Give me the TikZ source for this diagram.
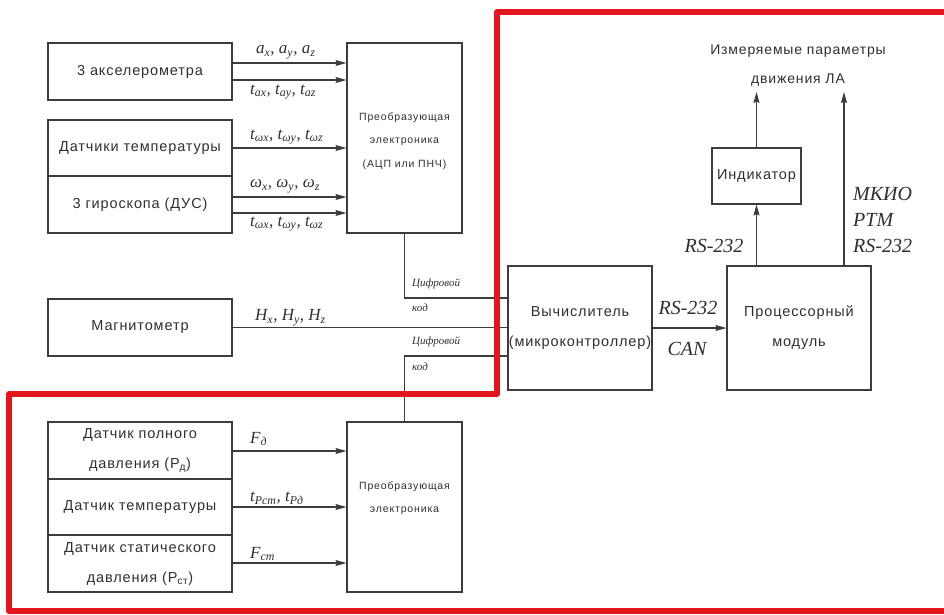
\documentclass[tikz,border=0pt]{standalone}
\usepackage{fontspec}
\setmainfont{Liberation Sans}
\newfontfamily\gost{Liberation Sans}[LetterSpace=6]
\newfontfamily\gosts{Liberation Sans}[LetterSpace=8]
\newfontfamily\tms{Liberation Serif}
\usetikzlibrary{arrows.meta}
\definecolor{ln}{HTML}{3C3C3C}
\definecolor{tx}{HTML}{303030}
\definecolor{rd}{HTML}{E3151E}
\newcommand{\sbs}[1]{\textsubscript{#1}}
\begin{document}
\begin{tikzpicture}[x=1pt,y=-1pt,
 box/.style={draw=ln, line width=1.1pt, inner sep=0pt, align=center, text=tx, font=\gost\fontsize{14.5}{30}\selectfont},
 btxt/.style={text=tx, align=center, font=\gost\fontsize{14}{29}\selectfont, inner sep=0pt},
 stxt/.style={text=tx, align=center, font=\gosts\fontsize{10.5}{23.5}\selectfont, inner sep=0pt},
 lab/.style={text=tx, font=\tms\itshape\fontsize{17}{19}\selectfont, inner sep=0pt, anchor=west},
 bigtxt/.style={text=tx, font=\tms\itshape\fontsize{20}{26}\selectfont, inner sep=0pt, align=left},
 cdtxt/.style={text=tx, font=\tms\itshape\fontsize{11}{13}\selectfont, inner sep=0pt, anchor=west},
 wire/.style={draw=ln, line width=1.1pt},
 arr/.style={wire, -{Stealth[length=11pt,width=6pt,inset=1.5pt]}},
]
\useasboundingbox[fill=white] (0,0) rectangle (944,614);

% upper sensors
\node[box, minimum width=184pt, minimum height=57pt] (acc) at (140,71.5) {3 акселерометра};
\node[box, minimum width=184pt, minimum height=56pt] (tempg) at (140,148) {Датчики температуры};
\node[box, minimum width=184pt, minimum height=57pt] (gyro) at (140,204.5) {3 гироскопа (ДУС)};
\node[box, minimum width=115pt, minimum height=190pt] (pr1) at (404.5,138) {};
\node[stxt] (pr1t) at (404.5,141) {Преобразующая\\электроника\\(АЦП или ПНЧ)};

% magnetometer
\node[box, minimum width=184pt, minimum height=57pt] (mag) at (140,327.5) {Магнитометр};

% lower sensors
\node[box, minimum width=184pt, minimum height=57pt] (pfull) at (140,450.5) {Датчик полного\\давления (P\sbs{д})};
\node[box, minimum width=184pt, minimum height=56pt] (ptemp) at (140,507) {Датчик температуры};
\node[box, minimum width=184pt, minimum height=57pt] (pstat) at (140,563.5) {Датчик статического\\давления (P\sbs{ст})};
\node[box, minimum width=115pt, minimum height=170pt] (pr2) at (404.5,507) {};
\node[stxt] (pr2t) at (404.5,498) {Преобразующая\\электроника};

% computer, processor, indicator
\node[box, minimum width=144pt, minimum height=124pt] (calc) at (580,328) {Вычислитель\\(микроконтроллер)};
\node[box, minimum width=144pt, minimum height=124pt] (proc) at (799,328) {Процессорный\\модуль};
\node[box, minimum width=89pt, minimum height=56pt] (ind) at (756.5,176) {Индикатор};
\node[btxt] (title) at (798,66) {Измеряемые параметры\\движения ЛА};

% level coordinates
\coordinate (y1) at (0,63);
\coordinate (y2) at (0,80);
\coordinate (y3) at (0,148);
\coordinate (y4) at (0,197);
\coordinate (y5) at (0,213);
\coordinate (y6) at (0,451);
\coordinate (y7) at (0,507);
\coordinate (y8) at (0,563);
\coordinate (yc1) at (0,298);
\coordinate (yc2) at (0,356);
\coordinate (out1) at (756.5,92);
\coordinate (out2) at (844,92);

% sensor arrows
\draw[arr] (acc.east |- y1) -- (pr1.west |- y1);
\draw[arr] (acc.east |- y2) -- (pr1.west |- y2);
\draw[arr] (tempg.east |- y3) -- (pr1.west |- y3);
\draw[arr] (gyro.east |- y4) -- (pr1.west |- y4);
\draw[arr] (gyro.east |- y5) -- (pr1.west |- y5);
\draw[arr] (pfull.east |- y6) -- (pr2.west |- y6);
\draw[arr] (ptemp.east |- y7) -- (pr2.west |- y7);
\draw[arr] (pstat.east |- y8) -- (pr2.west |- y8);

% labels on sensor arrows
\node[lab] (la1) at (256,52) {a\sbs{x}, a\sbs{y}, a\sbs{z}};
\node[lab] (la2) at (250,92) {t\sbs{ax}, t\sbs{ay}, t\sbs{az}};
\node[lab] (la3) at (250,137) {t\sbs{ωx}, t\sbs{ωy}, t\sbs{ωz}};
\node[lab] (la4) at (250,186) {ω\sbs{x}, ω\sbs{y}, ω\sbs{z}};
\node[lab] (la5) at (250,224) {t\sbs{ωx}, t\sbs{ωy}, t\sbs{ωz}};
\node[lab] (la6) at (255,318) {H\sbs{x}, H\sbs{y}, H\sbs{z}};
\node[lab] (la7) at (250,439) {F\sbs{д}};
\node[lab] (la8) at (250,498) {t\sbs{Pст}, t\sbs{Pд}};
\node[lab] (la9) at (250,554) {F\sbs{ст}};

% digital code wires and magnetometer wire
\draw[wire] (pr1.south) |- (calc.west |- yc1);
\draw[wire] (pr2.north) |- (calc.west |- yc2);
\draw[wire] (mag.east) -- (calc.west |- mag.east);
\node[cdtxt] (cd1) at (412,284) {Цифровой};
\node[cdtxt] (cd1b) at (412,308) {код};
\node[cdtxt] (cd2) at (412,342) {Цифровой};
\node[cdtxt] (cd2b) at (412,367) {код};

% right part connections
\draw[arr] (calc.east) -- (proc.west);
\node[bigtxt] (rs1) at (688,308) {RS-232};
\node[bigtxt] (can) at (687,349) {CAN};
\draw[arr] (proc.north -| ind.south) -- (ind.south);
\draw[arr] (ind.north) -- (out1);
\draw[arr] (proc.north -| out2) -- (out2);
\node[bigtxt] (rs2) at (714,246) {RS-232};
\node[bigtxt, anchor=west] (mk) at (853,220) {МКИО\\РТМ\\RS-232};

% red frame
\draw[rd, line width=6pt, line join=round, line cap=round] (944,12) -- (497,12) -- (497,394) -- (9,394) -- (9,611) -- (944,611);
\end{tikzpicture}
\end{document}
